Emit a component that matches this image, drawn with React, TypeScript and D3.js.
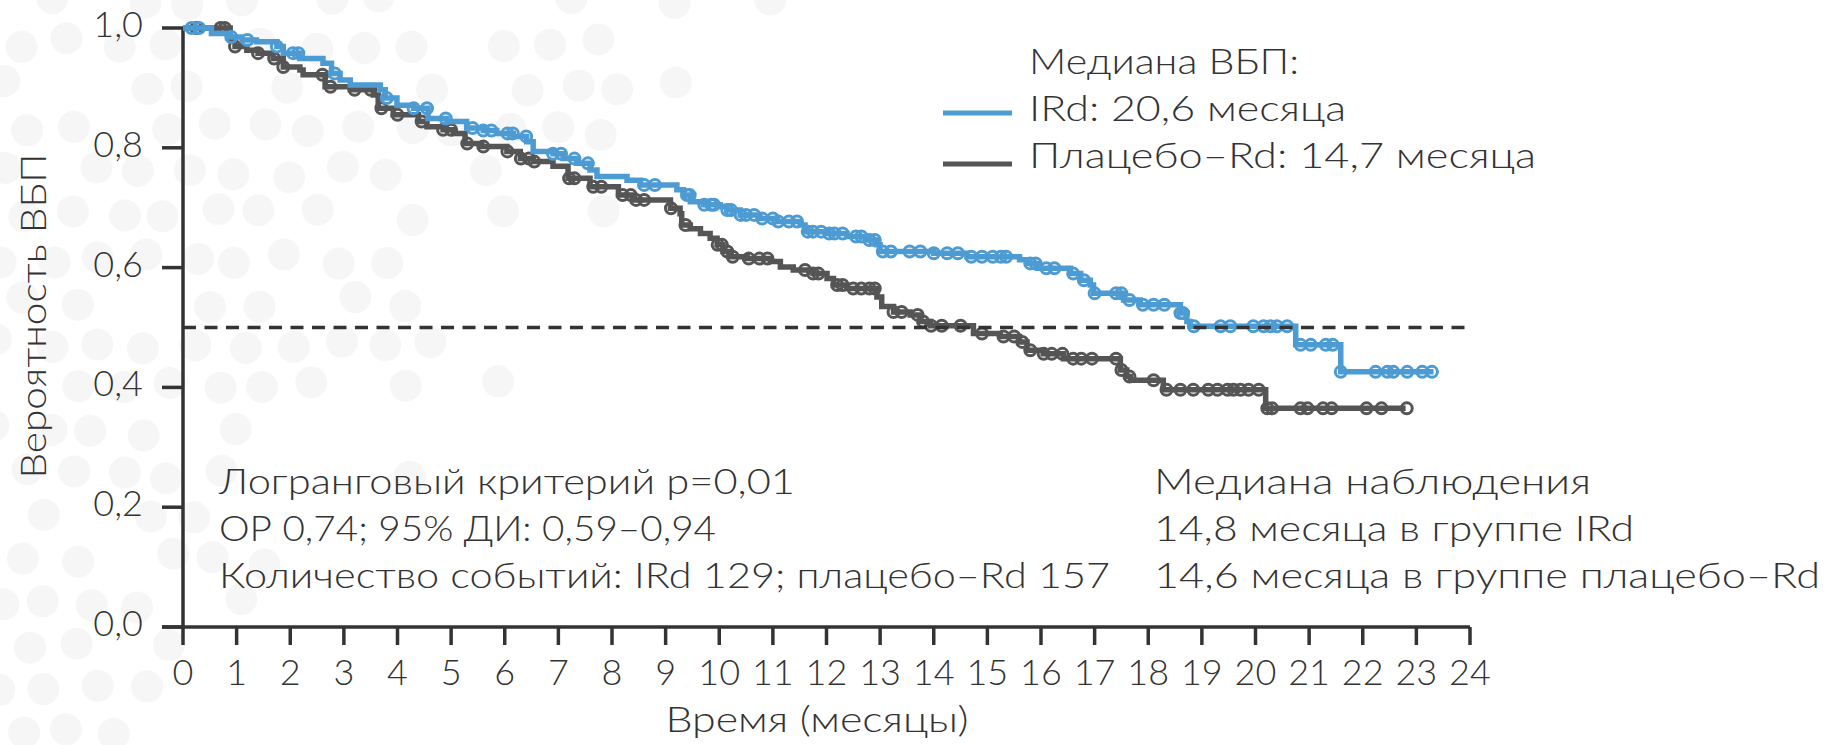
import React from "react";
import * as d3 from "d3";

// ---------- DATA ----------
const monthTicks = d3.range(0, 25);
const probTicks = [0, 0.2, 0.4, 0.6, 0.8, 1.0];
const probTickLabels = ["0,0", "0,2", "0,4", "0,6", "0,8", "1,0"];

// IRd Kaplan–Meier steps (time in months, survival after the step)
const irdTimes = [0, 0.53, 0.88, 1.1, 1.37, 1.75, 1.87, 2.18, 2.61, 2.77, 2.93, 3.12, 3.68, 3.77, 3.99, 4.3, 4.57, 4.92, 5.29, 5.6, 5.85, 6.16, 6.41, 6.53, 6.9, 7.09, 7.34, 7.59, 7.72, 8.28, 8.53, 9.21, 9.33, 9.46, 9.7, 10.02, 10.14, 10.39, 10.76, 11.08, 11.51, 11.6, 12.01, 12.38, 12.76, 12.94, 13.0, 14.0, 14.62, 15.6, 15.74, 15.93, 16.55, 16.74, 16.92, 16.98, 17.54, 17.85, 18.6, 18.72, 18.78, 20.75, 21.59];
const irdSurv = [1.0, 0.991, 0.985, 0.98, 0.977, 0.969, 0.958, 0.949, 0.941, 0.924, 0.913, 0.905, 0.897, 0.883, 0.871, 0.866, 0.849, 0.844, 0.833, 0.829, 0.824, 0.819, 0.81, 0.794, 0.79, 0.782, 0.774, 0.763, 0.752, 0.746, 0.738, 0.73, 0.721, 0.71, 0.705, 0.702, 0.696, 0.688, 0.682, 0.677, 0.671, 0.66, 0.657, 0.652, 0.646, 0.638, 0.627, 0.624, 0.618, 0.613, 0.607, 0.599, 0.59, 0.579, 0.571, 0.557, 0.546, 0.538, 0.524, 0.51, 0.502, 0.471, 0.426];
const irdEnd = 23.32;
const irdCensor = [0.16, 0.3, 0.9, 1.2, 1.75, 2.05, 2.15, 2.83, 3.8, 4.3, 4.55, 4.9, 5.4, 5.6, 5.75, 6.05, 6.15, 6.4, 6.9, 7.05, 7.3, 7.55, 8.6, 8.8, 9.4, 9.45, 9.72, 9.85, 9.9, 10.15, 10.22, 10.4, 10.5, 10.65, 10.8, 11.0, 11.1, 11.3, 11.45, 11.65, 11.75, 11.9, 12.05, 12.15, 12.3, 12.55, 12.65, 12.8, 12.9, 13.05, 13.2, 13.55, 13.75, 14.0, 14.25, 14.45, 14.7, 14.9, 15.1, 15.25, 15.35, 15.8, 15.9, 16.1, 16.25, 16.6, 16.8, 17.0, 17.4, 17.5, 17.65, 17.9, 18.1, 18.3, 18.6, 18.65, 18.85, 19.35, 19.53, 19.96, 20.15, 20.28, 20.4, 20.59, 20.84, 21.03, 21.31, 21.44, 21.59, 22.24, 22.46, 22.57, 22.83, 23.11, 23.29];

// Placebo–Rd Kaplan–Meier steps
const placeboTimes = [0, 0.88, 0.97, 1.19, 1.4, 1.68, 1.87, 2.18, 2.24, 2.65, 3.12, 3.55, 3.64, 3.92, 4.39, 4.55, 4.85, 5.04, 5.26, 5.57, 6.04, 6.29, 6.53, 6.9, 7.18, 7.59, 8.12, 8.4, 9.09, 9.27, 9.3, 9.46, 9.65, 9.83, 9.96, 10.07, 10.2, 10.52, 10.95, 11.14, 11.38, 11.75, 12.01, 12.13, 12.38, 12.94, 13.03, 13.25, 13.56, 13.75, 13.94, 14.74, 15.24, 15.6, 15.74, 16.04, 16.42, 17.48, 17.6, 17.67, 18.28, 20.19];
const placeboSurv = [1.0, 0.98, 0.969, 0.963, 0.958, 0.949, 0.935, 0.93, 0.922, 0.902, 0.897, 0.888, 0.866, 0.855, 0.844, 0.835, 0.83, 0.824, 0.807, 0.802, 0.794, 0.782, 0.777, 0.769, 0.749, 0.735, 0.721, 0.713, 0.699, 0.69, 0.671, 0.665, 0.657, 0.649, 0.638, 0.627, 0.618, 0.615, 0.61, 0.601, 0.596, 0.59, 0.582, 0.571, 0.565, 0.551, 0.535, 0.526, 0.521, 0.51, 0.503, 0.49, 0.485, 0.476, 0.462, 0.456, 0.448, 0.429, 0.418, 0.412, 0.396, 0.365];
const placeboEnd = 22.8;
const placeboCensor = [0.25, 0.7, 0.78, 0.97, 1.4, 1.7, 1.87, 2.6, 2.75, 3.2, 3.5, 3.7, 4.0, 4.45, 4.85, 5.0, 5.3, 5.6, 6.05, 6.3, 6.45, 6.55, 7.2, 7.3, 7.65, 7.8, 8.2, 8.35, 8.45, 8.6, 9.1, 9.37, 9.97, 10.05, 10.15, 10.25, 10.55, 10.75, 10.9, 11.6, 11.75, 11.85, 12.2, 12.3, 12.5, 12.65, 12.8, 12.9, 13.25, 13.4, 13.7, 13.8, 13.95, 14.15, 14.5, 14.9, 15.3, 15.5, 15.65, 15.8, 16.05, 16.2, 16.4, 16.6, 16.75, 16.95, 17.4, 17.5, 17.65, 18.1, 18.34, 18.6, 18.84, 19.12, 19.29, 19.48, 19.59, 19.72, 19.87, 20.06, 20.22, 20.31, 20.84, 20.97, 21.26, 21.42, 22.07, 22.35, 22.82];

const medianLevel = 0.5;

const legendTitle = "Медиана ВБП:";
const legendIrd = "IRd: 20,6 месяца";
const legendPlacebo = "Плацебо–Rd: 14,7 месяца";
const statsLines = ["Логранговый критерий p=0,01", "ОР 0,74; 95% ДИ: 0,59–0,94", "Количество событий: IRd 129; плацебо–Rd 157"];
const followLines = ["Медиана наблюдения", "14,8 месяца в группе IRd", "14,6 месяца в группе плацебо–Rd"];
const yTitle = "Вероятность ВБП";
const xTitle = "Время (месяцы)";

// ---------- STYLE ----------
const W = 1837;
const H = 745;
const BLUE = "#4d9bd3";
const GRAY = "#555555";
const AXIS = "#333333";
const TEXT = "#333333";
const FONT = "Lato, 'Open Sans', sans-serif";
const FS = 36;
const FW = 300;

function stepValue(times: number[], surv: number[], t: number) {
  let v = surv[0];
  for (let i = 0; i < times.length; i++) {
    if (times[i] <= t + 1e-9) v = surv[i];
  }
  return v;
}

function hash(i: number, j: number) {
  const s = Math.sin(i * 127.1 + j * 311.7) * 43758.5453;
  return s - Math.floor(s);
}

export default function App() {
  const x = d3.scaleLinear().domain([0, 24]).range([183, 1470]);
  const y = d3.scaleLinear().domain([0, 1]).range([627, 28]);

  const line = d3
    .line<[number, number]>()
    .x((d) => x(d[0]))
    .y((d) => y(d[1]))
    .curve(d3.curveStepAfter);

  const irdPts: [number, number][] = irdTimes.map((t, i) => [t, irdSurv[i]] as [number, number]);
  irdPts.push([irdEnd, irdSurv[irdSurv.length - 1]]);
  const plPts: [number, number][] = placeboTimes.map((t, i) => [t, placeboSurv[i]] as [number, number]);
  plPts.push([placeboEnd, placeboSurv[placeboSurv.length - 1]]);

  // decorative background dots
  const dots: { cx: number; cy: number }[] = [];
  for (let r = 0; r < 18; r++) {
    for (let c = 0; c < 22; c++) {
      const cx = c * 48 + (r % 2 ? 24 : 0) + (hash(r, c) - 0.5) * 14;
      const cy = r * 43 + (hash(c, r) - 0.5) * 12;
      const score = cx * 0.9 + cy * 0.75;
      const limit = 540 + hash(r + 3, c + 7) * 220;
      if (cx < 110 || score < limit) {
        if (hash(r * 3, c * 5) > 0.2) dots.push({ cx, cy });
      }
    }
  }

  const yAxisX = x(0);
  const y0 = y(0);

  return (
    <svg
      width={W}
      height={H}
      style={{ position: "absolute", left: 0, top: 0, display: "block", background: "#fff" }}
      fontFamily={FONT}
    >
      <g>
        {dots.map((d, i) => (
          <circle key={i} cx={d.cx} cy={d.cy} r={16} fill="#f6f6f6" />
        ))}
      </g>

      {/* axes */}
      <line x1={yAxisX} x2={yAxisX} y1={y(1)} y2={y0} stroke={AXIS} strokeWidth={3.5} />
      <line x1={yAxisX - 21} x2={x(24)} y1={y0} y2={y0} stroke={AXIS} strokeWidth={3.5} />
      {probTicks.map((p, i) => (
        <g key={"yt" + i}>
          <line x1={yAxisX - 21} x2={yAxisX} y1={y(p)} y2={y(p)} stroke={AXIS} strokeWidth={3.5} />
          <text x={yAxisX - 40} y={y(p) + 9} textAnchor="end" fontSize={FS} fill={TEXT} fontWeight={FW}>
            {probTickLabels[i]}
          </text>
        </g>
      ))}
      {monthTicks.map((m) => (
        <g key={"xt" + m}>
          <line x1={x(m)} x2={x(m)} y1={y0} y2={y0 + 18} stroke={AXIS} strokeWidth={3.5} />
          <text x={x(m)} y={685} textAnchor="middle" fontSize={FS} fill={TEXT} fontWeight={FW}>
            {m}
          </text>
        </g>
      ))}

      <text
        transform={`translate(46,316) rotate(-90)`}
        textAnchor="middle"
        fontSize={FS}
        fill={TEXT}
        fontWeight={FW}
        textLength={325}
        lengthAdjust="spacingAndGlyphs"
      >
        {yTitle}
      </text>
      <text x={817} y={732} textAnchor="middle" fontSize={FS} fill={TEXT} fontWeight={FW} textLength={303} lengthAdjust="spacingAndGlyphs">
        {xTitle}
      </text>

      {/* curves */}
      <path d={line(plPts) || ""} fill="none" stroke={GRAY} strokeWidth={5.5} />
      {placeboCensor.map((t, i) => (
        <circle key={"pc" + i} cx={x(t)} cy={y(stepValue(placeboTimes, placeboSurv, t))} r={5.5} fill="none" stroke={GRAY} strokeWidth={3} />
      ))}
      <path d={line(irdPts) || ""} fill="none" stroke={BLUE} strokeWidth={5.5} />
      {irdCensor.map((t, i) => (
        <circle key={"ic" + i} cx={x(t)} cy={y(stepValue(irdTimes, irdSurv, t))} r={5.5} fill="none" stroke={BLUE} strokeWidth={3} />
      ))}

      {/* median reference line */}
      <line x1={x(0)} x2={x(24)} y1={y(medianLevel)} y2={y(medianLevel)} stroke={AXIS} strokeWidth={3.5} strokeDasharray="13 8.5" />

      {/* legend */}
      <text x={1029} y={74} fontSize={FS} fill={TEXT} fontWeight={FW} textLength={270} lengthAdjust="spacingAndGlyphs">
        {legendTitle}
      </text>
      <line x1={943} x2={1012} y1={113} y2={113} stroke={BLUE} strokeWidth={5} />
      <text x={1029} y={121} fontSize={FS} fill={TEXT} fontWeight={FW} textLength={317} lengthAdjust="spacingAndGlyphs">
        {legendIrd}
      </text>
      <line x1={943} x2={1012} y1={164} y2={164} stroke={GRAY} strokeWidth={5} />
      <text x={1029} y={168} fontSize={FS} fill={TEXT} fontWeight={FW} textLength={507} lengthAdjust="spacingAndGlyphs">
        {legendPlacebo}
      </text>

      {/* annotations */}
      {statsLines.map((s, i) => (
        <text key={"s" + i} x={219} y={494 + i * 47} fontSize={FS} fill={TEXT} fontWeight={FW} textLength={[576, 497, 891][i]} lengthAdjust="spacingAndGlyphs">
          {s}
        </text>
      ))}
      {followLines.map((s, i) => (
        <text key={"f" + i} x={1154} y={494 + i * 47} fontSize={FS} fill={TEXT} fontWeight={FW} textLength={[437, 480, 666][i]} lengthAdjust="spacingAndGlyphs">
          {s}
        </text>
      ))}
    </svg>
  );
}
